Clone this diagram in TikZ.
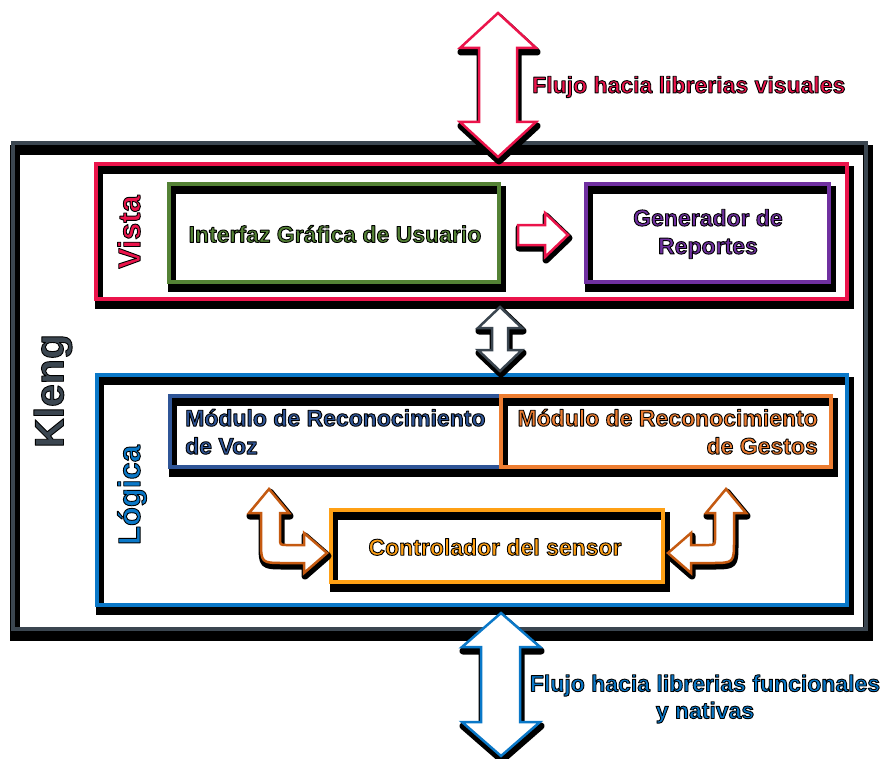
\documentclass[tikz,border=0pt]{standalone}
\usepackage{fontspec}
\setmainfont{Liberation Sans}
\definecolor{cred}{RGB}{235,20,75}
\definecolor{cgreen}{RGB}{84,130,53}
\definecolor{cpurple}{RGB}{112,48,160}
\definecolor{cblue}{RGB}{10,120,200}
\definecolor{cdblue}{RGB}{47,85,151}
\definecolor{corange}{RGB}{237,125,49}
\definecolor{cyellow}{RGB}{255,160,20}
\definecolor{cbrown}{RGB}{197,90,17}
\definecolor{cslate}{RGB}{59,70,80}
% outlined (fill + black stroke) text, one text string only
\newcommand{\outl}[1]{\special{pdf:literal direct 2 Tr 0 0 0 RG 0.9 w 1 j}#1\special{pdf:literal direct 0 Tr 0 j}}
\tikzset{
  boxshadow/.style={draw=black, line width=8pt, inner sep=0pt, outer sep=0pt},
  boxline/.style={line width=3.5pt, inner sep=0pt, outer sep=0pt},
  arrshadow/.style={draw=black, line width=7pt, line join=round},
  arrline/.style={fill=white, line width=2.5pt, line join=miter},
  txt/.style={inner sep=0pt, font=\bfseries\fontsize{23}{28}\selectfont},
  fluxtxt/.style={font=\bfseries\fontsize{23}{27}\selectfont},
}
% name, colour, x1, y1, x2, y2
\newcommand{\shadowbox}[6]{%
  \node[boxshadow, minimum width={(#5-#3)*1pt}, minimum height={(#6-#4)*1pt}]
    (#1s) at ({(#3+#5)/2+3},{(#4+#6)/2+6}) {};
  \node[boxline, draw=#2, minimum width={(#5-#3)*1pt}, minimum height={(#6-#4)*1pt}]
    (#1) at ({(#3+#5)/2},{(#4+#6)/2}) {};
}
\def\pathTop{(498,13) -- (536,48) -- (517,48) -- (517,122) -- (536,122) -- (498,157) -- (460,122) -- (479,122) -- (479,48) -- (460,48) -- cycle}
\def\pathBot{(501,613) -- (540,647) -- (520,647) -- (520,722) -- (540,722) -- (501,756) -- (462,722) -- (481,722) -- (481,647) -- (462,647) -- cycle}
\def\pathMid{(500,307) -- (522,328) -- (508,328) -- (508,350) -- (522,350) -- (500,371) -- (478,350) -- (492,350) -- (492,328) -- (478,328) -- cycle}
\def\pathSmall{(518,225) -- (545,225) -- (545,213) -- (568,235) -- (545,257) -- (545,245) -- (518,245) -- cycle}
\def\pathUL{(269,489) -- (289,513) -- (280,513) -- (280,538) .. controls (280,545) .. (287,545) -- (304,545) -- (304,533) -- (327,553) -- (304,573) -- (304,563) -- (284,563) .. controls (261,563) and (261,563) .. (261,540) -- (261,513) -- (249,513) -- cycle}
\def\pathUR{(726,489) -- (706,513) -- (715,513) -- (715,538) .. controls (715,545) .. (708,545) -- (691,545) -- (691,533) -- (668,553) -- (691,573) -- (691,563) -- (711,563) .. controls (734,563) and (734,563) .. (734,540) -- (734,513) -- (746,513) -- cycle}
\begin{document}
\begin{tikzpicture}[x=1pt,y=-1pt]
\useasboundingbox (0,0) rectangle (882,759);

% outer Kleng box
\node[draw=black, line width=10pt, inner sep=0pt, minimum width=853pt, minimum height=486pt] (klengs) at (441.5,393) {};
\node[draw=cslate, line width=4pt, inner sep=0pt, minimum width=853pt, minimum height=486pt] (kleng) at (439.5,386) {};

% layer boxes
\shadowbox{vista}{cred}{96}{164}{847}{299}
\shadowbox{logica}{cblue}{97}{375}{847}{605}

% inner boxes
\shadowbox{gui}{cgreen}{169}{184}{499}{282}
\shadowbox{gen}{cpurple}{586}{184}{829}{282}
\shadowbox{voz}{cdblue}{170}{396}{501}{467}
\shadowbox{gestos}{corange}{501}{396}{831}{467}
\shadowbox{ctrl}{cyellow}{331}{510}{663}{582}

% block arrows
\draw[arrshadow, shift={(1,4)}] \pathTop;
\draw[arrline, draw=cred] \pathTop;
\draw[arrshadow, shift={(1,4)}] \pathBot;
\draw[arrline, draw=cblue] \pathBot;
\draw[arrshadow, shift={(1,3)}] \pathMid;
\draw[arrline, draw=cslate] \pathMid;
\draw[arrshadow, shift={(1,3)}] \pathSmall;
\draw[arrline, draw=cred] \pathSmall;
\draw[arrshadow, shift={(1,3)}] \pathUL;
\draw[arrline, draw=cbrown] \pathUL;
\draw[arrshadow, shift={(1,3)}] \pathUR;
\draw[arrline, draw=cbrown] \pathUR;

% texts
\node[txt, rotate=90, text=cslate, font=\bfseries\fontsize{41}{42}\selectfont] (klengt) at (53,391) {\outl{Kleng}};
\node[txt, rotate=90, text=cred, font=\bfseries\fontsize{31}{32}\selectfont] (vistat) at (129,232) {\outl{Vista}};
\node[txt, rotate=90, text=cblue, font=\bfseries\fontsize{31}{32}\selectfont] (logicat) at (132,495) {\outl{Lógica}};
\node[txt, text=cgreen] (guit) at (335,234) {\outl{Interfaz Gráfica de Usuario}};
\node[txt, text=cpurple, align=center] (gent) at (708,234) {\outl{Generador de}\\\outl{Reportes}};
\node[txt, anchor=north west, text=cdblue, align=left] (vozt) at (185,409) {\outl{Módulo de Reconocimiento}\\\outl{de Voz}};
\node[txt, anchor=north east, text=corange, align=right] (gestost) at (818,409) {\outl{Módulo de Reconocimiento}\\\outl{de Gestos}};
\node[txt, text=cyellow] (ctrlt) at (495,547) {\outl{Controlador del sensor}};
\node[txt, fluxtxt, anchor=west, text=cred] (topt) at (532,87) {\outl{Flujo hacia librerias visuales}};
\node[txt, fluxtxt, text=cblue, align=center] (bott) at (705,699) {\outl{Flujo hacia librerias funcionales}\\\outl{y nativas}};
\end{tikzpicture}
\end{document}
